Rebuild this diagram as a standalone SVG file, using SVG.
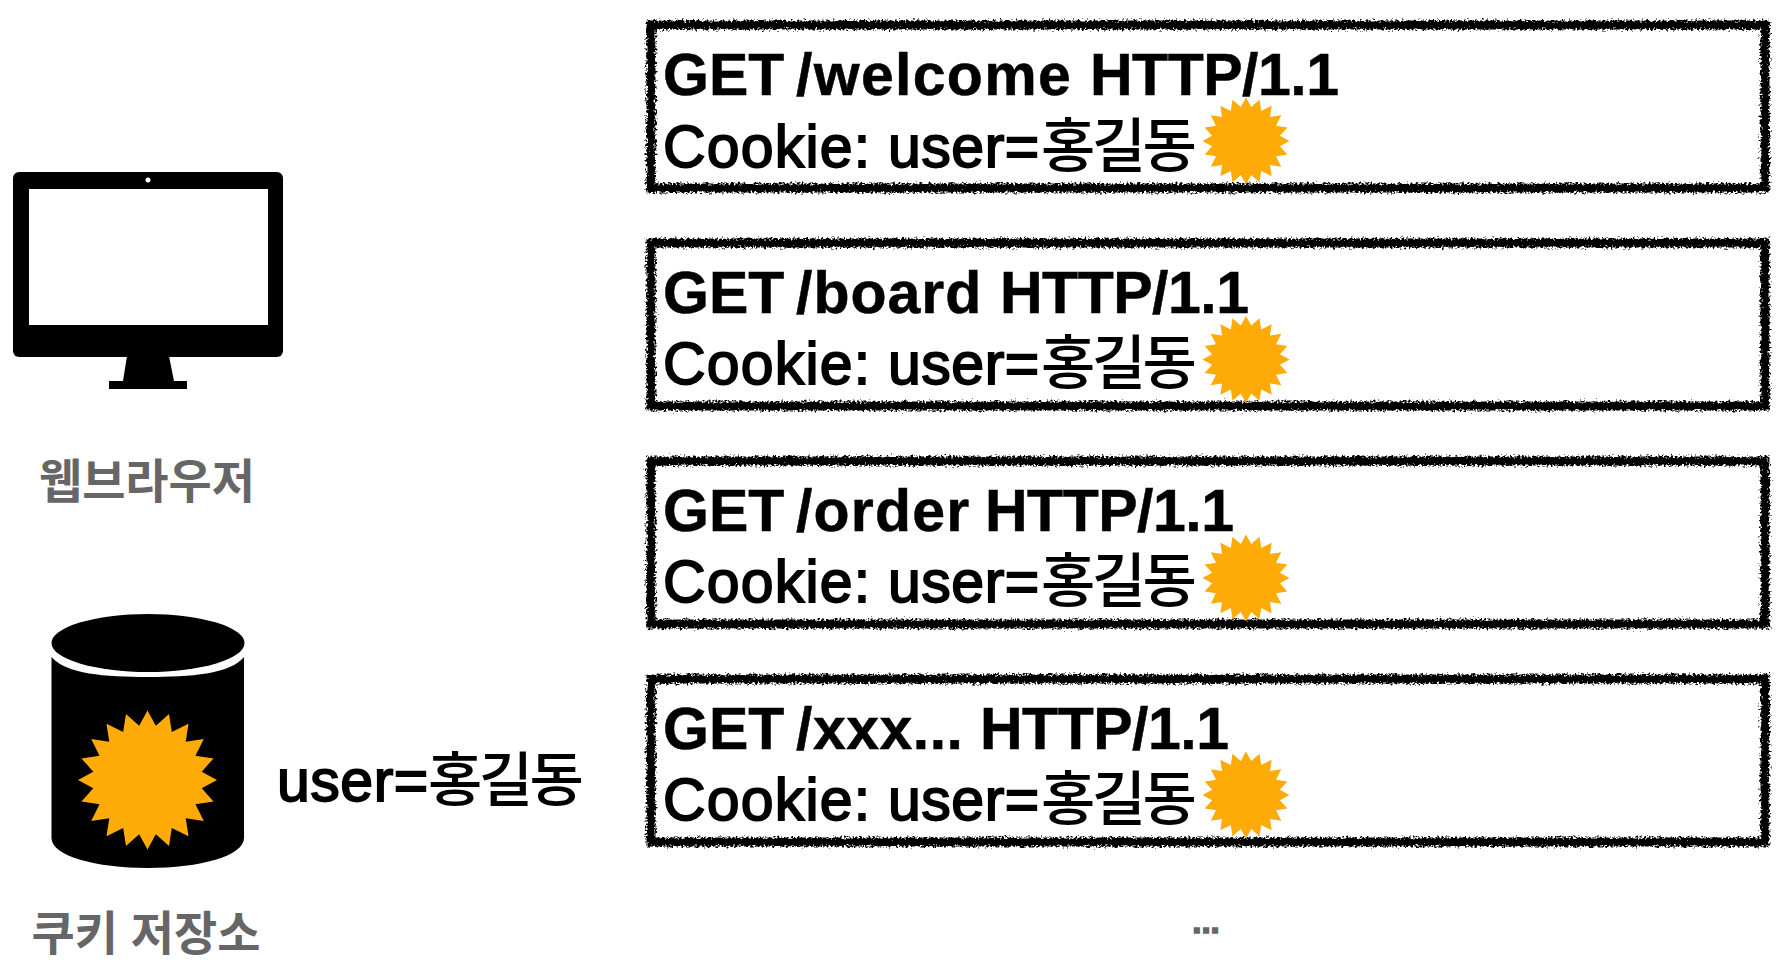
<svg xmlns="http://www.w3.org/2000/svg" width="1788" height="970" viewBox="0 0 1788 970">
<style>
.get{font-family:"Liberation Sans","Noto Sans CJK KR",sans-serif;font-weight:700;font-size:59px;fill:#000;stroke:#000;stroke-width:.5}
.h{letter-spacing:-.5px}
.ck{font-family:"Liberation Sans","Noto Sans CJK KR",sans-serif;font-size:59px;letter-spacing:.5px;fill:#000;stroke:#000;stroke-width:1.800}
.c{letter-spacing:1.200px}
.ko{font-family:"Noto Sans CJK KR",sans-serif;font-weight:500;stroke-width:0;letter-spacing:-3.500px}
.lbl{font-family:"Noto Sans CJK KR",sans-serif;font-weight:700;font-size:47px;fill:#666;text-anchor:middle}
.box{fill:#fff;stroke:#000;stroke-width:9;filter:url(#rough)}
.star{fill:#ffab07}
</style>
<defs>
<filter id="rough" x="-2%" y="-10%" width="104%" height="120%">
<feTurbulence type="fractalNoise" baseFrequency="0.45" numOctaves="2" seed="4" result="n"/>
<feDisplacementMap in="SourceGraphic" in2="n" scale="8" xChannelSelector="R" yChannelSelector="G"/>
</filter>
<polygon id="s" points="1,0 .78,.12 .95,.31 .69,.35 .81,.59 .55,.55 .59,.81 .35,.69 .31,.95 .12,.78 0,1 -.12,.78 -.31,.95 -.35,.69 -.59,.81 -.55,.55 -.81,.59 -.69,.35 -.95,.31 -.78,.12 -1,0 -.78,-.12 -.95,-.31 -.69,-.35 -.81,-.59 -.55,-.55 -.59,-.81 -.35,-.69 -.31,-.95 -.12,-.78 0,-1 .12,-.78 .31,-.95 .35,-.69 .59,-.81 .55,-.55 .81,-.59 .69,-.35 .95,-.31 .78,-.12"/>
</defs>
<rect width="1788" height="970" fill="#fff"/>
<g id="browser">
<rect x="13" y="172" width="270" height="185" rx="6" fill="#000"/>
<rect x="29" y="189" width="239" height="136" fill="#fff"/>
<circle cx="148" cy="180" r="2.500" fill="#fff"/>
<path d="M127 356H169L174 381H187V389H109V381H123Z" fill="#000"/>
<text class="lbl" x="147" y="498">웹브라우저</text>
</g>
<g id="cookie-store">
<path d="M51.500 657C66 674 105 677 148 677C191 677 230 674 244 657V838C244 856 200 868 148 868C96 868 51.500 856 51.500 838Z" fill="#000"/>
<ellipse cx="148" cy="643" rx="96.500" ry="29" fill="#000"/>
<use href="#s" class="star" transform="translate(147.500 780) scale(69.500)"/>
<text class="lbl" x="146" y="950" word-spacing="2">쿠키 저장소</text>
<text class="ck" x="277" y="801">user=<tspan class="ko" x="428">홍길동</tspan></text>
</g>
<g id="request-1">
<rect class="box" x="651" y="25" width="1114" height="163"/>
<text class="get" x="663" y="95">GET <tspan x="796" letter-spacing="1.300">/welcome</tspan> <tspan class="h" x="1090">HTTP/1.1</tspan></text>
<text class="ck" x="663" y="167"><tspan class="c">Cookie:</tspan> <tspan x="888">user=</tspan><tspan class="ko" x="1041">홍길동</tspan></text>
<use href="#s" class="star" transform="translate(1246 141) scale(43.500)"/>
</g>
<g id="request-2">
<rect class="box" x="651" y="243" width="1114" height="163"/>
<text class="get" x="663" y="313">GET <tspan x="796" letter-spacing="1">/board</tspan> <tspan class="h" x="1000">HTTP/1.1</tspan></text>
<text class="ck" x="663" y="384"><tspan class="c">Cookie:</tspan> <tspan x="888">user=</tspan><tspan class="ko" x="1041">홍길동</tspan></text>
<use href="#s" class="star" transform="translate(1246 359.500) scale(43.500)"/>
</g>
<g id="request-3">
<rect class="box" x="651" y="461" width="1114" height="163"/>
<text class="get" x="663" y="531">GET <tspan x="796" letter-spacing="1.200">/order</tspan> <tspan class="h" x="985">HTTP/1.1</tspan></text>
<text class="ck" x="663" y="602"><tspan class="c">Cookie:</tspan> <tspan x="888">user=</tspan><tspan class="ko" x="1041">홍길동</tspan></text>
<use href="#s" class="star" transform="translate(1246 578) scale(43.500)"/>
</g>
<g id="request-4">
<rect class="box" x="651" y="679" width="1114" height="163"/>
<text class="get" x="663" y="749">GET <tspan x="796" letter-spacing=".5">/xxx...</tspan> <tspan class="h" x="980">HTTP/1.1</tspan></text>
<text class="ck" x="663" y="820"><tspan class="c">Cookie:</tspan> <tspan x="888">user=</tspan><tspan class="ko" x="1041">홍길동</tspan></text>
<use href="#s" class="star" transform="translate(1246 795) scale(43.500)"/>
</g>
<text id="more" x="1206" y="933" font-family="Liberation Sans,sans-serif" font-weight="700" font-size="33" text-anchor="middle" fill="#666" stroke="#666" stroke-width="1.500">...</text>
<g id="connectors"/>
</svg>
